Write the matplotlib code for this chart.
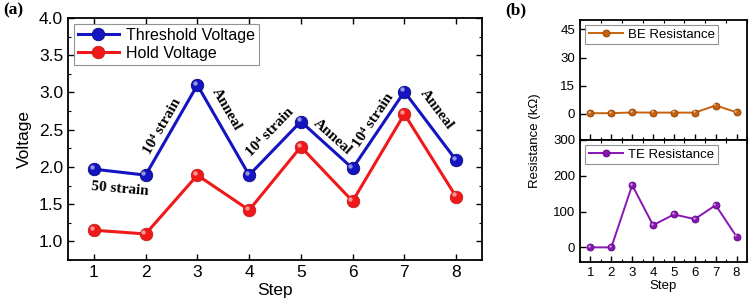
import matplotlib.pyplot as plt
from matplotlib import transforms
from matplotlib.ticker import MultipleLocator

plt.rcParams["font.family"] = ["Liberation Sans", "DejaVu Sans"]

steps = [1, 2, 3, 4, 5, 6, 7, 8]
threshold_v = [1.97, 1.89, 3.10, 1.89, 2.61, 1.98, 3.01, 2.09]
hold_v = [1.15, 1.10, 1.89, 1.42, 2.27, 1.54, 2.71, 1.60]
be_res = [0.3, 0.3, 0.7, 0.6, 0.6, 0.6, 4.4, 0.8]
te_res = [0, 0, 174, 62, 92, 79, 118, 30]

notes = ["50 strain", "10\u2074 strain", "Anneal", "10\u2074 strain", "Anneal", "10\u2074 strain", "Anneal"]
note_x = [1.50, 2.33, 3.57, 4.40, 5.62, 6.40, 7.63]
note_y = [1.71, 2.54, 2.77, 2.46, 2.40, 2.63, 2.77]
note_rot = [-5, 60, -60, 46, -42, 56, -53]


def ball_line(ax, x, y, color, dark, lw, ms, label):
    ax.plot(x, y, "-", color=color, lw=lw, marker="o", ms=ms,
            mfc=color, mec=dark, mew=0.6, label=label, zorder=3)
    # small highlight to fake the shaded sphere
    hl = transforms.offset_copy(ax.transData, fig=ax.figure, x=-ms * 0.18, y=ms * 0.18, units="points")
    ax.plot(x, y, "o", ms=ms * 0.35, mfc="white", mec="none", alpha=0.55,
            transform=hl, zorder=4)


def style_ax(ax, size):
    ax.tick_params(which="both", direction="in", top=True, right=True, labelsize=size)
    ax.tick_params(which="major", length=4, width=1)
    ax.tick_params(which="minor", length=2, width=0.8)
    for s in ax.spines.values():
        s.set_linewidth(1.3)


fig = plt.figure(figsize=(7.49, 3.06), dpi=100)

# (a) voltages
ax = fig.add_axes([0.0908, 0.1503, 0.5527, 0.7909])
ball_line(ax, steps, threshold_v, "#1414c0", "#0a0a80", 2.2, 9, "Threshold Voltage")
ball_line(ax, steps, hold_v, "#f01818", "#c02020", 2.2, 9, "Hold Voltage")
ax.set_xlim(0.5, 8.5)
ax.set_ylim(0.75, 4.0)
ax.set_xticks(steps)
ax.yaxis.set_major_locator(MultipleLocator(0.5))
ax.yaxis.set_minor_locator(MultipleLocator(0.25))
style_ax(ax, 12.5)
ax.set_xlabel("Step", fontsize=12.5, labelpad=2)
ax.set_ylabel("Voltage", fontsize=12.5, labelpad=5)
leg = ax.legend(loc="upper left", fontsize=11.5, handlelength=2.6, borderpad=0.25,
                labelspacing=0.2, handletextpad=0.4, fancybox=False,
                bbox_to_anchor=(0.0, 1.0), borderaxespad=0.35)
leg.get_frame().set_edgecolor("#777777")
leg.get_frame().set_linewidth(0.8)
for t, x, y, r in zip(notes, note_x, note_y, note_rot):
    ax.text(x, y, t, rotation=r, ha="center", va="center", fontsize=11,
            fontweight="bold", family="Liberation Serif", rotation_mode="anchor")

# (b) resistances
axt = fig.add_axes([0.7744, 0.5425, 0.2229, 0.3921])
axb = fig.add_axes([0.7744, 0.1448, 0.2229, 0.3977])
ball_line(axt, steps, be_res, "#c8620c", "#8a4208", 1.4, 5, "BE Resistance")
ball_line(axb, steps, te_res, "#8a14b4", "#5a0a80", 1.4, 5, "TE Resistance")
for a in (axt, axb):
    a.set_xlim(0.5, 8.5)
    a.set_xticks(steps)
    a.xaxis.set_minor_locator(MultipleLocator(0.5))
    style_ax(a, 9.5)
    a.tick_params(which="both", right=False)
    lg = a.legend(loc="upper left", fontsize=9.5, handlelength=2.6, borderpad=0.25,
                  handletextpad=0.4, fancybox=False, borderaxespad=0.4)
    lg.get_frame().set_edgecolor("#777777")
    lg.get_frame().set_linewidth(0.8)
axt.set_ylim(-14, 50)
axt.set_yticks([0, 15, 30, 45])
axt.tick_params(labelbottom=False, top=False)
axb.set_ylim(-40, 300)
axb.set_yticks([0, 100, 200, 300])
axb.tick_params(top=False)
axb.set_xlabel("Step", fontsize=9.5, labelpad=1)
fig.text(0.714, 0.54, "Resistance (k\u03a9)", rotation=90, ha="center", va="center", fontsize=9.5)

fig.text(0.004, 0.965, "(a)", fontsize=12.5, fontweight="bold", family="Liberation Serif", va="center")
fig.text(0.674, 0.965, "(b)", fontsize=12.5, fontweight="bold", family="Liberation Serif", va="center")

fig.savefig("out.png", dpi=100)
